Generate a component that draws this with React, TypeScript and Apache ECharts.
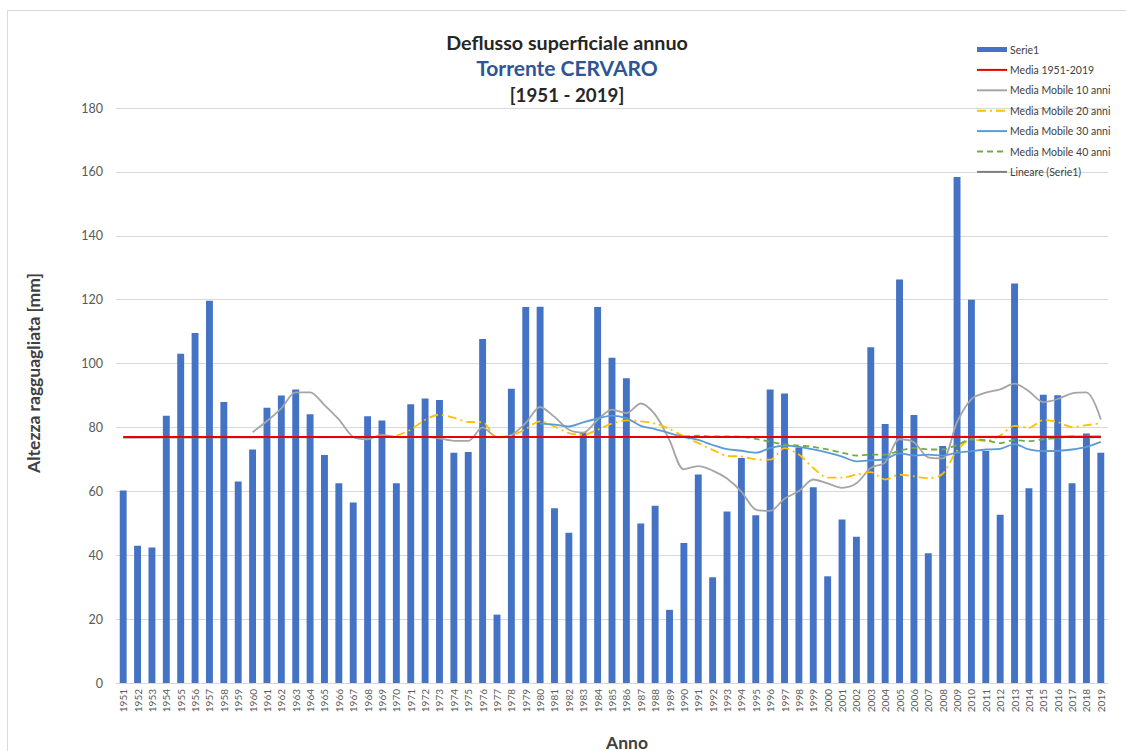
import React, { useEffect, useRef } from "react";
import * as echarts from "echarts";

const years = [
  "1951","1952","1953","1954","1955","1956","1957","1958","1959","1960",
  "1961","1962","1963","1964","1965","1966","1967","1968","1969","1970",
  "1971","1972","1973","1974","1975","1976","1977","1978","1979","1980",
  "1981","1982","1983","1984","1985","1986","1987","1988","1989","1990",
  "1991","1992","1993","1994","1995","1996","1997","1998","1999","2000",
  "2001","2002","2003","2004","2005","2006","2007","2008","2009","2010",
  "2011","2012","2013","2014","2015","2016","2017","2018","2019",
];

const serie1 = [
  60.3, 43.0, 42.4, 83.7, 103.1, 109.6, 119.7, 88.0, 63.1, 73.1,
  86.2, 90.0, 91.9, 84.1, 71.4, 62.5, 56.5, 83.5, 82.2, 62.5,
  87.3, 89.1, 88.6, 72.1, 72.3, 107.7, 21.4, 92.1, 117.7, 117.8,
  54.7, 47.0, 78.4, 117.7, 101.8, 95.4, 49.9, 55.5, 22.9, 43.8,
  65.3, 33.1, 53.7, 70.4, 52.5, 91.9, 90.6, 73.7, 61.3, 33.4,
  51.2, 45.8, 105.1, 81.1, 126.3, 83.9, 40.6, 74.2, 158.4, 120.0,
  72.6, 52.7, 125.1, 61.0, 90.2, 90.1, 62.5, 78.1, 72.1,
];

// Media 1951-2019 (constant)
const mediaValue = 77.0;

// Moving averages (start year + values)
const ma10Start = "1960";
const ma10 = [
  78.5, 82.0, 86.0, 91.0, 91.0, 87.0, 82.5, 77.0, 76.3, 77.7,
  77.0, 76.9, 77.0, 76.6, 75.8, 75.8, 80.0, 77.0, 77.6, 81.4,
  86.4, 83.3, 79.3, 78.4, 82.4, 85.6, 84.5, 87.5, 84.0, 76.0,
  66.9, 67.9, 66.5, 64.0, 59.9, 54.3, 53.9, 57.7, 60.1, 63.7,
  62.5, 61.1, 62.5, 67.3, 69.1, 76.3, 75.4, 70.6, 70.3, 81.7,
  88.9, 90.9, 91.9, 93.7, 91.3, 87.9, 88.9, 90.7, 91.0, 82.5,
];

const ma20Start = "1970";
const ma20 = [
  77.4, 79.3, 82.4, 84.0, 83.0, 81.7, 81.6, 76.9, 77.4, 79.5,
  81.9, 80.3, 78.2, 77.7, 79.3, 81.2, 82.2, 81.9, 81.2, 79.5,
  77.2, 75.1, 73.0, 71.1, 70.9, 70.0, 69.9, 73.5, 71.5, 67.3,
  64.3, 64.3, 65.2, 66.0, 63.7, 65.2, 64.7, 64.1, 65.5, 72.7,
  76.3, 75.7, 77.5, 80.5, 79.9, 82.3, 81.7, 80.1, 80.7, 81.3,
];

const ma30Start = "1980";
const ma30 = [
  81.2, 80.9, 80.3, 81.6, 82.8, 83.7, 82.9, 80.5, 79.5, 78.2,
  77.0, 76.1, 74.5, 73.2, 72.7, 72.1, 73.5, 74.3, 73.9, 73.1,
  72.1, 70.9, 69.4, 69.7, 70.1, 71.9, 71.2, 71.5, 71.2, 72.1,
  72.6, 73.1, 73.3, 74.8, 73.1, 72.6, 72.7, 73.1, 73.9, 75.5,
];

const ma40Start = "1990";
const ma40 = [
  77.2, 77.4, 77.2, 77.2, 77.1, 76.4, 75.5, 74.7, 74.3, 73.9,
  73.1, 72.1, 71.2, 71.5, 71.5, 72.7, 73.6, 73.1, 73.1, 74.5,
  76.3, 76.0, 75.1, 76.0, 75.7, 76.3, 76.7, 77.2, 76.9, 76.9,
];

// Linear trend endpoints (first and last year)
const trendStart = 76.7;
const trendEnd = 77.3;

const yTicks = { min: 0, max: 180, interval: 20 };

const titleLines = ["Deflusso superficiale annuo", "Torrente CERVARO", "[1951 - 2019]"];
const yAxisName = "Altezza ragguagliata [mm]";
const xAxisName = "Anno";

const legendNames = [
  "Serie1",
  "Media 1951-2019",
  "Media Mobile 10 anni",
  "Media Mobile 20 anni",
  "Media Mobile 30 anni",
  "Media Mobile 40 anni",
  "Lineare (Serie1)",
];

function fromYear(start: string, vals: number[]) {
  const idx = years.indexOf(start);
  const out: (number | null)[] = years.map(() => null);
  vals.forEach((v, i) => {
    out[idx + i] = v;
  });
  return out;
}

function endpoints(a: number, b: number) {
  const out: (number | null)[] = years.map(() => null);
  out[0] = a;
  out[years.length - 1] = b;
  return out;
}

const FONT = "Lato, 'Open Sans', sans-serif";

export default function App() {
  const ref = useRef<HTMLDivElement>(null);

  useEffect(() => {
    if (!ref.current) return;
    const chart = echarts.init(ref.current, null, { renderer: "svg" });
    const lineBase = { type: "line" as const, symbol: "none", connectNulls: true, smooth: 0.3 };
    chart.setOption({
      animation: false,
      backgroundColor: "#ffffff",
      textStyle: { fontFamily: FONT },
      title: [
        {
          text: titleLines[0], left: 567, top: 32, textAlign: "center", padding: 0,
          textStyle: { fontFamily: FONT, fontSize: 19.7, fontWeight: "bold", color: "#262626" },
        },
        {
          text: titleLines[1], left: 567, top: 57, textAlign: "center", padding: 0,
          textStyle: { fontFamily: FONT, fontSize: 21, fontWeight: "bold", color: "#2F5597" },
        },
        {
          text: titleLines[2], left: 567, top: 85, textAlign: "center", padding: 0,
          textStyle: { fontFamily: FONT, fontSize: 18.7, fontWeight: "bold", color: "#262626" },
        },
      ],
      graphic: [
        {
          type: "rect", shape: { x: 7.5, y: 10.5, width: 1300, height: 900 },
          style: { fill: "none", stroke: "#d9d9d9", lineWidth: 1 }, silent: true, z: -10,
        },
        {
          type: "text", x: 33, y: 373, rotation: Math.PI / 2, silent: true,
          style: {
            text: yAxisName, fontFamily: FONT, fontSize: 17.5, fontWeight: "bold", fill: "#404040",
            align: "center", verticalAlign: "middle",
          },
        },
        {
          type: "text", x: 627, y: 742, silent: true,
          style: {
            text: xAxisName, fontFamily: FONT, fontSize: 17.5, fontWeight: "bold", fill: "#404040",
            align: "center", verticalAlign: "middle",
          },
        },
      ],
      legend: {
        orient: "vertical",
        left: 976,
        top: 44,
        padding: 0,
        itemWidth: 30,
        itemHeight: 10,
        itemGap: 9.4,
        textStyle: { fontFamily: FONT, fontSize: 10.5, lineHeight: 10, color: "#404040", padding: [0, 0, 0, -2] },
        data: [
          { name: legendNames[0], icon: "path://M0,0L0.01,0L0,0.01ZM29.99,10L30,10L30,9.99ZM0,2.5H30V7.5H0Z" },
          ...legendNames.slice(1).map((n) => ({ name: n, itemStyle: { opacity: 0 } })),
        ],
      },
      grid: { left: 116, right: 18, top: 108, bottom: 68, containLabel: false },
      xAxis: {
        type: "category",
        data: years,
        boundaryGap: true,
        axisLine: { lineStyle: { color: "#d9d9d9" } },
        axisTick: { show: false },
        axisLabel: { rotate: 90, interval: 0, fontSize: 10, color: "#595959", margin: 6, fontFamily: FONT },
      },
      yAxis: {
        type: "value",
        min: yTicks.min,
        max: yTicks.max,
        interval: yTicks.interval,
        axisLine: { show: false },
        axisTick: { show: false },
        axisLabel: { fontSize: 12.5, color: "#595959", margin: 13, fontFamily: FONT },
        splitLine: { lineStyle: { color: "#d9d9d9", width: 1 } },
      },
      series: [
        {
          name: legendNames[0],
          type: "bar",
          data: serie1,
          barWidth: "48%",
          itemStyle: { color: "#4472C4" },
          z: 2,
        },
        {
          ...lineBase,
          name: legendNames[2],
          data: fromYear(ma10Start, ma10),
          lineStyle: { color: "#A5A5A5", width: 1.8 },
          itemStyle: { color: "#A5A5A5" },
          z: 3,
        },
        {
          ...lineBase,
          name: legendNames[3],
          data: fromYear(ma20Start, ma20),
          lineStyle: { color: "#FFC000", width: 1.8, type: [9, 4, 2, 4] },
          itemStyle: { color: "#FFC000" },
          z: 3,
        },
        {
          ...lineBase,
          name: legendNames[4],
          data: fromYear(ma30Start, ma30),
          lineStyle: { color: "#5B9BD5", width: 1.8 },
          itemStyle: { color: "#5B9BD5" },
          z: 3,
        },
        {
          ...lineBase,
          name: legendNames[5],
          data: fromYear(ma40Start, ma40),
          lineStyle: { color: "#70AD47", width: 1.8, type: [6, 4] },
          itemStyle: { color: "#70AD47" },
          z: 3,
        },
        {
          ...lineBase,
          smooth: false,
          name: legendNames[6],
          data: endpoints(trendStart, trendEnd),
          lineStyle: { color: "#7F7F7F", width: 1.2 },
          itemStyle: { color: "#7F7F7F" },
          z: 4,
        },
        {
          ...lineBase,
          smooth: false,
          name: legendNames[1],
          data: endpoints(mediaValue, mediaValue),
          lineStyle: { color: "#E60000", width: 2 },
          itemStyle: { color: "#E60000" },
          z: 5,
        },
      ],
    });
    return () => chart.dispose();
  }, []);

  return (
    <div
      ref={ref}
      style={{ position: "absolute", left: 0, top: 0, width: 1126, height: 751 }}
    />
  );
}
